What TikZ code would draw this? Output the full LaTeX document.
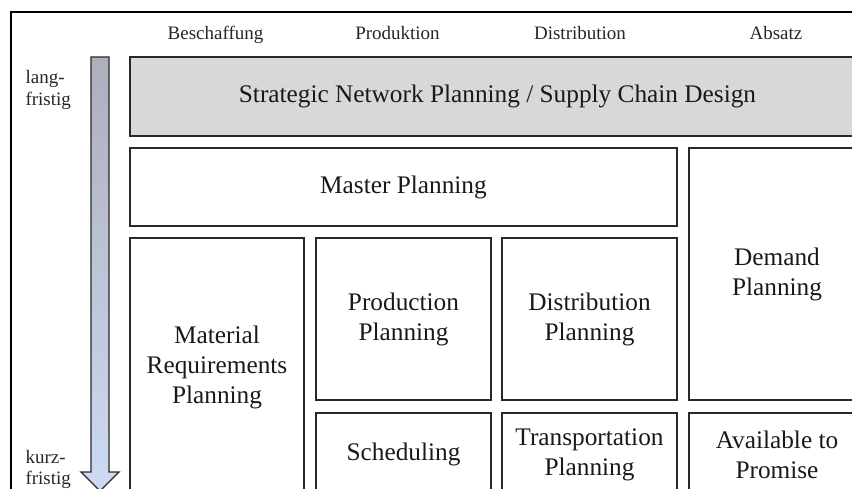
\documentclass[tikz,border=0pt]{standalone}
\usepackage{fontspec}
\setmainfont{Liberation Serif}
\definecolor{linegray}{RGB}{40,40,40}
\definecolor{paneFill}{RGB}{216,216,216}
\definecolor{arrowTop}{RGB}{172,175,188}
\definecolor{arrowBottom}{RGB}{205,218,242}
\begin{document}
\begin{tikzpicture}[x=1pt,y=-1pt,
  box/.style={draw=linegray, line width=1.7pt, inner sep=0pt, align=center,
    font=\fontsize{25.3}{30}\selectfont, text=black!90},
  head/.style={anchor=base, font=\fontsize{19}{22}\selectfont, text=black!85},
  side/.style={anchor=base west, font=\fontsize{19}{22}\selectfont, text=black!85}]
\useasboundingbox (0,0) rectangle (852,488);
\begin{scope}
\clip (0,0) rectangle (852,488);

% outer frame (top and left edges)
\draw[line width=2.2pt, black] (11,500) -- (11,12) -- (870,12);

% column headings
\node[head] (hBes) at (215.5,39) {Beschaffung};
\node[head] (hPro) at (397.5,39) {Produktion};
\node[head] (hDis) at (580,39) {Distribution};
\node[head] (hAbs) at (776,39) {Absatz};

% time horizon labels
\node[side] (lang1) at (22,83) {lang-};
\node[side] (lang2) at (22,105) {fristig};
\node[side] (kurz1) at (22,463) {kurz-};
\node[side] (kurz2) at (22,484) {fristig};

% time axis arrow
\shade[top color=arrowTop, bottom color=arrowBottom, draw=linegray, line width=1.4pt,
  line join=miter]
  (91,57) -- (109,57) -- (109,472) -- (119,472) -- (100,491) -- (81,472) -- (91,472) -- cycle;

% planning modules
\node[box, fill=paneFill, minimum width=735pt, minimum height=79pt] (strat) at (497.5,96.5)
  {Strategic Network Planning / Supply Chain Design};
\node[box, minimum width=547pt, minimum height=78pt] (master) at (403.5,187) {Master Planning};
\node[box, minimum width=176pt, minimum height=252pt] (demand) at (777,274) {Demand\\Planning};
\node[box, minimum width=174pt, minimum height=258pt] (mrp) at (217,367)
  {Material\\Requirements\\Planning};
\node[box, minimum width=175pt, minimum height=162pt] (prod) at (403.5,319) {Production\\Planning};
\node[box, minimum width=175pt, minimum height=162pt] (dist) at (589.5,319) {Distribution\\Planning};
\node[box, minimum width=175pt, minimum height=83pt] (sched) at (403.5,454.5) {Scheduling};
\node[box, minimum width=175pt, minimum height=83pt] (trans) at (589.5,454.5) {Transportation\\Planning};
\node[box, minimum width=176pt, minimum height=83pt] (atp) at (777,454.5) {Available to\\Promise};
\end{scope}
\end{tikzpicture}
\end{document}
